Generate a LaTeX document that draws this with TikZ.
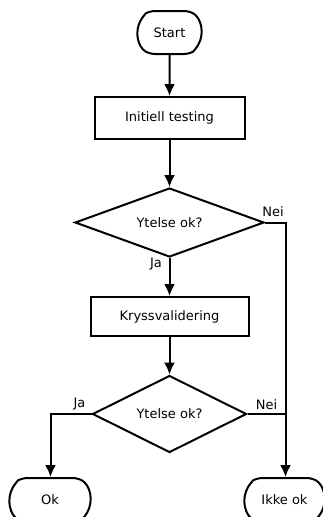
\documentclass[tikz,border=0pt]{standalone}
\usepackage{fontspec}
\setmainfont{DejaVu Sans}
\usetikzlibrary{arrows.meta,shapes.geometric,shapes.misc}
\begin{document}
\begin{tikzpicture}[x=1pt,y=-1pt,
  every node/.style={font=\fontsize{13}{15}\selectfont, inner sep=0pt},
  term/.style={draw, line width=2pt, rounded rectangle, rounded rectangle arc length=120, rounded corners=5pt, minimum height=43pt},
  proc/.style={draw, line width=2pt, rectangle, minimum height=41pt},
  dec/.style={draw, line width=2pt, diamond},
  conn/.style={line width=2pt, -{Latex[length=12pt,width=11pt]}},
  lbl/.style={font=\fontsize{13}{15}\selectfont}]
\useasboundingbox (0,0) rectangle (322,517);
\node[term, minimum width=64pt] (start) at (169.5,32.5) {Start};
\node[proc, minimum width=150pt, minimum height=42pt] (init) at (169.5,118) {Initiell testing};
\node[dec, minimum width=189pt, minimum height=69pt, shape aspect=2.74] (d1) at (169.5,222.5) {Ytelse ok?};
\node[proc, minimum width=158pt, minimum height=39pt] (kryss) at (169.5,316.5) {Kryssvalidering};
\node[dec, minimum width=154pt, minimum height=77pt, shape aspect=2] (d2) at (169.5,414) {Ytelse ok?};
\node[term, minimum width=81pt, minimum height=44pt] (ok) at (50,500) {Ok};
\node[term, minimum width=80pt, minimum height=44pt] (ikke) at (284.5,500) {Ikke ok};
\coordinate (c1) at (285.5,222.5);
\coordinate (c2) at (285.5,414);
\coordinate (c3) at (50.5,414);
\draw[conn] (start) -- (init);
\draw[conn] (init) -- (d1);
\draw[conn] (d1.south) -- (kryss);
\draw[conn] (kryss) -- (d2.north);
\draw[conn] (d1.east) -- (c1) -- (c1 |- ikke.north);
\draw[line width=2pt] (d2.east) -- (c2);
\draw[conn] (d2.west) -- (c3) -- (c3 |- ok.north);
\node[lbl] (nei1) at (273,212) {Nei};
\node[lbl] (ja1) at (156,264) {Ja};
\node[lbl] (ja2) at (79.5,404.5) {Ja};
\node[lbl] (nei2) at (266.5,405) {Nei};
\end{tikzpicture}
\end{document}
